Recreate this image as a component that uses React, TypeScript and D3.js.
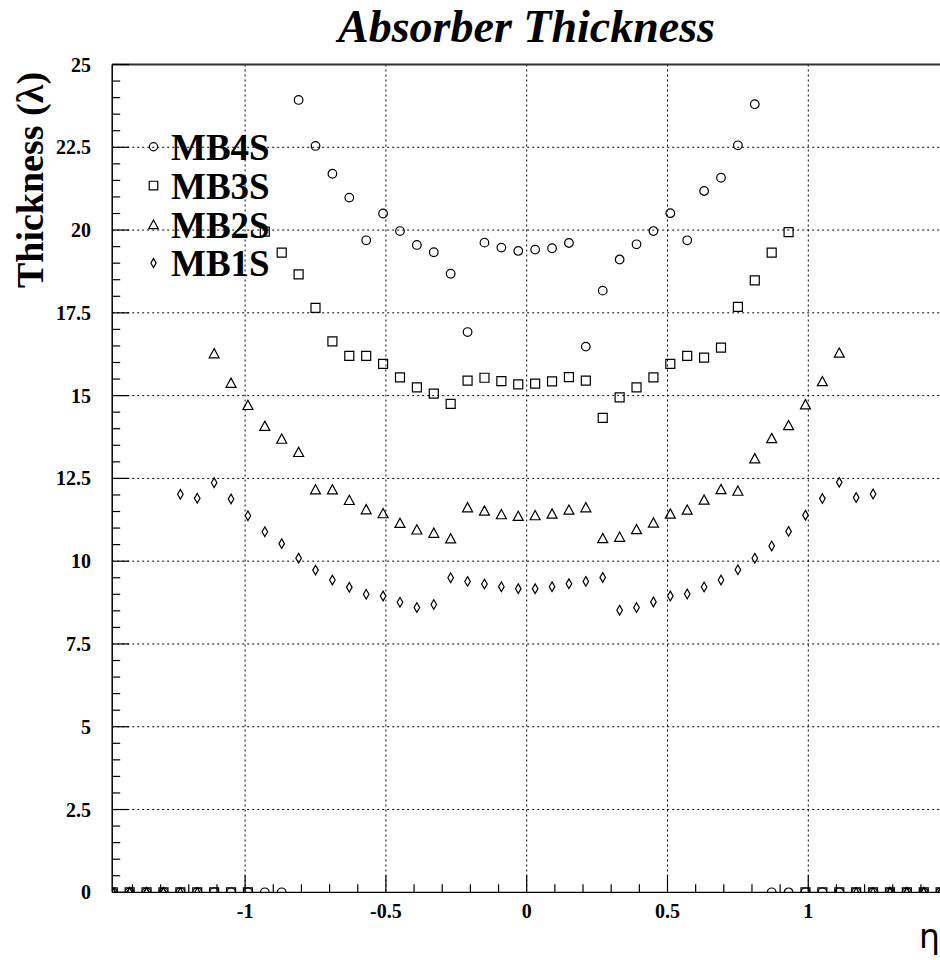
import React from "react";
import * as d3 from "d3";

const etaBins = [
  -1.47, -1.41, -1.35, -1.29, -1.23, -1.17, -1.11, -1.05, -0.99, -0.93,
  -0.87, -0.81, -0.75, -0.69, -0.63, -0.57, -0.51, -0.45, -0.39, -0.33,
  -0.27, -0.21, -0.15, -0.09, -0.03, 0.03, 0.09, 0.15, 0.21, 0.27,
  0.33, 0.39, 0.45, 0.51, 0.57, 0.63, 0.69, 0.75, 0.81, 0.87,
  0.93, 0.99, 1.05, 1.11, 1.17, 1.23, 1.29, 1.35, 1.41, 1.47,
];

const mb4s = [
  0, 0, 0, 0, 0, 0, 0, 0, 0, 0,
  0, 23.93, 22.54, 21.7, 20.98, 19.69, 20.5, 19.97, 19.55, 19.33,
  18.68, 16.92, 19.62, 19.47, 19.37, 19.41, 19.45, 19.61, 16.48, 18.17,
  19.11, 19.57, 19.97, 20.51, 19.69, 21.18, 21.58, 22.56, 23.8, 0,
  0, 0, 0, 0, 0, 0, 0, 0, 0, 0,
];

const mb3s = [
  0, 0, 0, 0, 0, 0, 0, 0, 0, 19.95,
  19.32, 18.66, 17.65, 16.64, 16.2, 16.2, 15.96, 15.55, 15.25, 15.06,
  14.75, 15.45, 15.54, 15.44, 15.34, 15.36, 15.43, 15.56, 15.45, 14.33,
  14.95, 15.25, 15.55, 15.96, 16.2, 16.15, 16.45, 17.68, 18.48, 19.32,
  19.94, 0, 0, 0, 0, 0, 0, 0, 0, 0,
];

const mb2s = [
  0, 0, 0, 0, 0, 0, 16.28, 15.39, 14.72, 14.09,
  13.7, 13.3, 12.17, 12.17, 11.85, 11.57, 11.45, 11.16, 10.96, 10.86,
  10.69, 11.63, 11.53, 11.42, 11.37, 11.39, 11.44, 11.56, 11.63, 10.7,
  10.74, 10.97, 11.17, 11.44, 11.56, 11.86, 12.18, 12.13, 13.11, 13.72,
  14.11, 14.74, 15.44, 16.3, 0, 0, 0, 0, 0, 0,
];

const mb1s = [
  0, 0, 0, 0, 12.02, 11.9, 12.37, 11.88, 11.37, 10.89,
  10.53, 10.09, 9.73, 9.43, 9.21, 9.0, 8.95, 8.76, 8.6, 8.69,
  9.5, 9.39, 9.31, 9.23, 9.17, 9.17, 9.23, 9.32, 9.39, 9.51,
  8.52, 8.6, 8.77, 8.95, 9.01, 9.22, 9.43, 9.74, 10.09, 10.46,
  10.9, 11.39, 11.89, 12.38, 11.92, 12.03, 0, 0, 0, 0,
];

const seriesNames = ["MB4S", "MB3S", "MB2S", "MB1S"];
const seriesMarkers = ["circle", "square", "triangle", "diamond"];
const seriesValues = [mb4s, mb3s, mb2s, mb1s];

const xTickValues = [-1, -0.5, 0, 0.5, 1];
const xTickLabels = ["-1", "-0.5", "0", "0.5", "1"];
const yTickValues = [0, 2.5, 5, 7.5, 10, 12.5, 15, 17.5, 20, 22.5, 25];
const yTickLabels = ["0", "2.5", "5", "7.5", "10", "12.5", "15", "17.5", "20", "22.5", "25"];

const titleText = "Absorber Thickness";
const yTitle = "Thickness (λ)";
const xTitle = "η";

const W = 940;
const H = 960;
const left = 112.2;
const right = 941.2;
const top = 64.5;
const bottom = 892.3;

const serif = "'Liberation Serif', 'Times New Roman', serif";

function markerPath(kind: string, cx: number, cy: number, s = 1): string {
  if (kind === "circle") {
    const r = 4.3 * s;
    return `M${cx - r},${cy}a${r},${r} 0 1,0 ${2 * r},0a${r},${r} 0 1,0 ${-2 * r},0Z`;
  }
  if (kind === "square") {
    const h = 4.5 * s;
    return `M${cx - h},${cy - h}h${2 * h}v${2 * h}h${-2 * h}Z`;
  }
  if (kind === "triangle") {
    const w = 5 * s;
    const hh = 4.6 * s;
    return `M${cx},${cy - hh}L${cx + w},${cy + hh}L${cx - w},${cy + hh}Z`;
  }
  const w = 2.8 * s;
  const hh = 4.8 * s;
  return `M${cx},${cy - hh}L${cx + w},${cy}L${cx},${cy + hh}L${cx - w},${cy}Z`;
}

export default function App() {
  const x = d3.scaleLinear().domain([-1.472, 1.472]).range([left, right]);
  const y = d3.scaleLinear().domain([0, 25]).range([bottom, top]);

  const xMinor = d3.range(-14, 15).map((k) => k / 10).filter((v) => Math.abs(v * 2 - Math.round(v * 2)) > 1e-6);
  const yMinor = d3.range(0, 51).map((k) => k / 2).filter((v) => Math.abs(v / 2.5 - Math.round(v / 2.5)) > 1e-6);

  return (
    <svg
      width={W}
      height={H}
      style={{ position: "absolute", left: 0, top: 0, background: "#fff" }}
    >
      <defs>
        <clipPath id="plotClip">
          <rect x={left} y={top - 2} width={W - left} height={bottom - top + 2} />
        </clipPath>
      </defs>

      {/* grid */}
      <g stroke="#000" strokeWidth={1} strokeDasharray="2,3">
        {yTickValues.filter((v) => v > 0 && v < 25).map((v) => (
          <line key={"gy" + v} x1={left} x2={W} y1={y(v)} y2={y(v)} />
        ))}
        {xTickValues.map((v) => (
          <line key={"gx" + v} x1={x(v)} x2={x(v)} y1={top} y2={bottom} />
        ))}
      </g>

      {/* top frame */}
      <line x1={left} x2={W} y1={top} y2={top} stroke="#333" strokeWidth={2} />

      {/* axes */}
      <line x1={left} x2={left} y1={top} y2={bottom} stroke="#000" strokeWidth={1.5} />
      <line x1={left} x2={W} y1={bottom} y2={bottom} stroke="#000" strokeWidth={1.2} />

      {/* y ticks */}
      <g stroke="#000" strokeWidth={1.2}>
        {yTickValues.map((v) => (
          <line key={"yt" + v} x1={left} x2={left + 17} y1={y(v)} y2={y(v)} />
        ))}
        {yMinor.map((v) => (
          <line key={"ym" + v} x1={left} x2={left + 8} y1={y(v)} y2={y(v)} />
        ))}
        {xTickValues.map((v) => (
          <line key={"xt" + v} x1={x(v)} x2={x(v)} y1={bottom} y2={bottom - 17} />
        ))}
        {xMinor.map((v) => (
          <line key={"xm" + v} x1={x(v)} x2={x(v)} y1={bottom} y2={bottom - 8} />
        ))}
      </g>

      {/* tick labels */}
      <g fontFamily={serif} fontWeight="bold" fontSize={20} fill="#000">
        {yTickValues.map((v, i) => (
          <text key={"yl" + v} x={91} y={y(v)} dy="0.35em" textAnchor="end">
            {yTickLabels[i]}
          </text>
        ))}
        {xTickValues.map((v, i) => (
          <text key={"xl" + v} x={x(v)} y={918} textAnchor="middle">
            {xTickLabels[i]}
          </text>
        ))}
      </g>

      {/* data */}
      <g clipPath="url(#plotClip)" fill="none" stroke="#000" strokeWidth={1.2}>
        {seriesValues.map((vals, si) =>
          vals.map((v, i) => (
            <path
              key={si + "-" + i}
              d={markerPath(seriesMarkers[si], x(etaBins[i]), y(v))}
            />
          ))
        )}
      </g>

      {/* legend */}
      <g>
        {seriesNames.map((name, i) => {
          const cy = 146.7 + i * 38.8;
          return (
            <g key={name}>
              <path
                d={markerPath(seriesMarkers[i], 153.5, cy, 0.95)}
                fill="none"
                stroke="#000"
                strokeWidth={1.2}
              />
              <text
                x={171}
                y={cy + 13.3}
                fontFamily={serif}
                fontWeight="bold"
                fontSize={37}
                fill="#000"
              >
                {name}
              </text>
            </g>
          );
        })}
      </g>

      {/* titles */}
      <text
        x={526.5}
        y={42}
        textAnchor="middle"
        fontFamily={serif}
        fontWeight="bold"
        fontStyle="italic"
        fontSize={46}
      >
        {titleText}
      </text>
      <text
        transform="translate(43,180) rotate(-90)"
        textAnchor="middle"
        fontFamily={serif}
        fontWeight="bold"
        fontSize={38}
      >
        {yTitle}
      </text>
      <text
        x={940}
        y={948}
        textAnchor="end"
        fontFamily="'DejaVu Sans', sans-serif"
        fontSize={33}
      >
        {xTitle}
      </text>
    </svg>
  );
}
